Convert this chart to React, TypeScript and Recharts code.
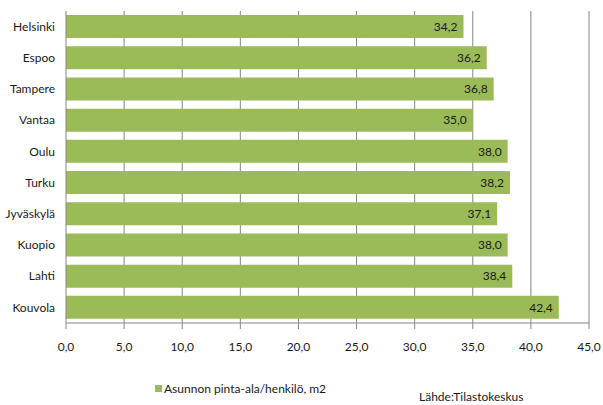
import { BarChart, Bar, XAxis, YAxis, CartesianGrid, LabelList } from "recharts";

const cities = ["Helsinki", "Espoo", "Tampere", "Vantaa", "Oulu", "Turku", "Jyväskylä", "Kuopio", "Lahti", "Kouvola"];
const areaPerPerson = [34.2, 36.2, 36.8, 35.0, 38.0, 38.2, 37.1, 38.0, 38.4, 42.4];

const majorTicks = [0, 5, 10, 15, 20, 25, 30, 35, 40, 45];
const gridValues = [5, 10, 15, 20, 25, 30, 35, 40, 45];
const minorTicks = [
  0, 1, 2, 3, 4, 5, 6, 7, 8, 9, 10, 11, 12, 13, 14, 15, 16, 17, 18, 19, 20, 21, 22,
  23, 24, 25, 26, 27, 28, 29, 30, 31, 32, 33, 34, 35, 36, 37, 38, 39, 40, 41, 42, 43, 44, 45,
];
const bandTicks = [0, 0.5, 1, 1.5, 2, 2.5, 3, 3.5, 4, 4.5, 5, 5.5, 6, 6.5, 7, 7.5, 8, 8.5, 9, 9.5, 10];

const legendLabel = "Asunnon pinta-ala/henkilö, m2";
const sourceLabel = "Lähde:Tilastokeskus";

const data = cities.map((city, i) => ({ city, value: areaPerPerson[i] }));

const GREEN = "#9BBB59";
const GRAY = "#868686";
const FONT = "Lato, 'Open Sans', sans-serif";

const fmt = (v: number) => Number(v).toFixed(1).replace(".", ",");

export default function App() {
  return (
    <div style={{ position: "absolute", left: 0, top: 0, width: 603, height: 405, background: "#fff", fontFamily: FONT }}>
      <BarChart
        width={603}
        height={405}
        data={data}
        layout="vertical"
        margin={{ top: 11, right: 14, bottom: 42, left: 0 }}
        barCategoryGap="13%"
      >
        <CartesianGrid
          xAxisId="main"
          yAxisId="cat"
          horizontal={false}
          verticalValues={gridValues}
          stroke={GRAY}
        />
        <XAxis
          xAxisId="minor"
          type="number"
          domain={[0, 45]}
          ticks={minorTicks}
          height={0}
          tick={false}
          axisLine={false}
          tickSize={4}
          tickLine={{ stroke: GRAY }}
        />
        <XAxis
          xAxisId="main"
          type="number"
          domain={[0, 45]}
          ticks={majorTicks}
          height={40}
          tickSize={6}
          tickMargin={13}
          tickFormatter={fmt}
          axisLine={{ stroke: GRAY }}
          tickLine={{ stroke: GRAY }}
          tick={{ fill: "#1a1a1a", fontSize: 12, fontFamily: FONT }}
          interval={0}
        />
        <YAxis
          yAxisId="band"
          type="number"
          domain={[0, 10]}
          ticks={bandTicks}
          reversed
          width={0}
          tick={false}
          axisLine={false}
          tickSize={4}
          tickLine={{ stroke: GRAY }}
        />
        <YAxis
          yAxisId="cat"
          type="category"
          dataKey="city"
          width={66}
          tickLine={false}
          tickSize={5}
          tickMargin={6}
          axisLine={{ stroke: GRAY }}
          tick={{ fill: "#1a1a1a", fontSize: 12, fontFamily: FONT }}
          interval={0}
        />
        <Bar xAxisId="main" yAxisId="cat" dataKey="value" fill={GREEN} isAnimationActive={false}>
          <LabelList
            dataKey="value"
            position="insideRight"
            offset={6}
            formatter={(v: any) => fmt(v)}
            style={{ fill: "#1a1a1a", fontSize: 12, fontFamily: FONT }}
          />
        </Bar>
      </BarChart>
      <div style={{ position: "absolute", left: 155, top: 381, display: "flex", alignItems: "center", fontSize: 12, color: "#1a1a1a" }}>
        <span style={{ display: "inline-block", width: 7, height: 7, background: GREEN, marginRight: 2 }} />
        <span>{legendLabel}</span>
      </div>
      <div style={{ position: "absolute", left: 419, top: 389, fontSize: 12, color: "#1a1a1a" }}>{sourceLabel}</div>
    </div>
  );
}
